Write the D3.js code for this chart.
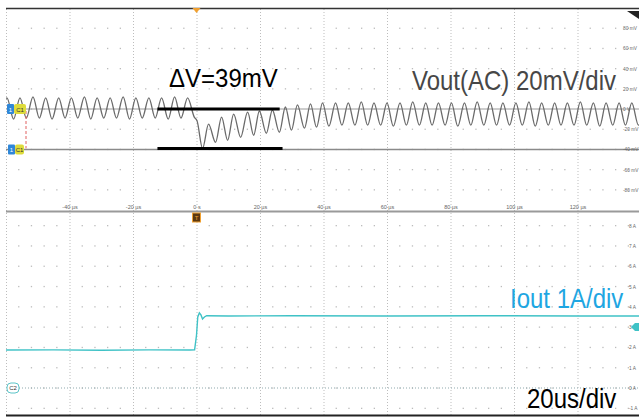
<!DOCTYPE html>
<html>
<head>
<meta charset="utf-8">
<script src="https://cdn.jsdelivr.net/npm/d3@7"></script>
<style>
body { margin: 0; background: #fff; }
svg { display: block; font-family: "Liberation Sans", Arial, sans-serif; }
</style>
</head>
<body>
<script>
var W = 639, H = 417;

// time axis, microseconds
var timeTicks = [-40, -20, 0, 20, 40, 60, 80, 100, 120];
var timeLabels = ["-40 µs", "-20 µs", "0 s", "20 µs", "40 µs", "60 µs", "80 µs", "100 µs", "120 µs"];
var voltTicks = [80, 60, 40, 20, 0, -20, -40, -60, -80];
var voltLabels = ["80 mV", "60 mV", "40 mV", "20 mV", "0 V", "-20 mV", "-40 mV", "-60 mV", "-80 mV"];
var ampTicks = [8, 7, 6, 5, 4, 3, 2, 1, 0, -1];
var ampLabels = ["8 A", "7 A", "6 A", "5 A", "4 A", "3 A", "2 A", "1 A", "0 A", "-1 A"];

// Vout (AC) ripple, peaks and troughs
var voutT = [
  -61.7, -59.7, -57.6, -55.6, -53.6, -51.5, -49.5, -47.5, -45.5, -43.4,
  -41.4, -39.4, -37.4, -35.3, -33.3, -31.3, -29.2, -27.2, -25.2, -23.1,
  -21.1, -19.1, -17.1, -15.0, -13.0, -11.0, -8.9, -6.9, -4.9, -2.8,
  -0.7, 0.2, 1.9, 3.8, 6.0, 7.9, 9.8, 11.7, 13.9, 16.1, 18.0,
  19.8, 22.0, 23.9, 26.1, 28.0, 29.9, 31.8, 34.0, 35.9, 37.8, 39.7,
  41.7, 43.8, 45.8, 47.8, 49.9, 51.9, 53.9, 55.9, 58.0, 60.0,
  62.0, 64.1, 66.1, 68.1, 70.2, 72.2, 74.2, 76.2, 78.3, 80.3,
  82.3, 84.4, 86.4, 88.4, 90.5, 92.5, 94.5, 96.5, 98.6, 100.6,
  102.6, 104.7, 106.7, 108.7, 110.8, 112.8, 114.8, 116.8, 118.9, 120.9,
  122.9, 125.0, 127.0, 129.0, 131.1, 133.1, 135.1, 137.1, 139.2, 141.2
];
var voutMv = [
  -9, 11, -10, 11, -9, 12, -9, 11, -10, 11,
  -9, 11, -9, 12, -10, 11, -9, 11, -9, 12,
  -10, 11, -9, 11, -9, 11, -10, 12, -9, 11,
  -8, -12, -39, -15, -33, -8, -31, -5, -28, -3, -26,
  -2, -24, -1, -23, 2, -21, 4, -19, 5, -18, 6,
  -17, 6, -16, 6, -16, 7, -16, 6, -16, 6,
  -17, 6, -16, 7, -16, 6, -16, 6, -16, 6,
  -17, 6, -16, 7, -16, 6, -16, 6, -16, 6,
  -16, 7, -17, 6, -16, 6, -16, 6, -16, 7,
  -16, 6, -17, 6, -16, 6, -16, 6, -16, 7
];

// Iout load step
var ioutT = [-60, -45, -30, -15, -2, -0.6, 0.0, 0.4, 0.9, 1.4, 1.9, 2.5, 3.2, 10, 30, 60, 90, 120, 140];
var ioutA = [1.87, 1.88, 1.86, 1.88, 1.87, 1.88, 2.6, 3.5, 3.7, 3.6, 3.4, 3.5, 3.56, 3.55, 3.56, 3.55, 3.56, 3.55, 3.55];

// delta V cursor lines: [t start, t end, mV]
var cursorLines = [[-12.3, 26.2, 0], [-12.3, 27.1, -39]];

var x = d3.scaleLinear().domain([-60, 140]).range([6, 641]);
var yV = d3.scaleLinear().domain([-100, 100]).range([210, 8]);
var yI = d3.scaleLinear().domain([-1, 8]).range([408.3, 225.6]);

var svg = d3.select("body").append("svg")
  .attr("width", W)
  .attr("height", H);

svg.append("rect").attr("width", W).attr("height", H).attr("fill", "#fff");

// grid: dotted verticals at each division
var majorT = d3.range(-60, 141, 20);
svg.append("g").selectAll("line")
  .data(majorT)
  .enter().append("line")
  .attr("x1", function(d) { return x(d) + 0.5; })
  .attr("x2", function(d) { return x(d) + 0.5; })
  .attr("y1", 9).attr("y2", 415)
  .attr("stroke", "#bdbdbd")
  .attr("stroke-dasharray", "1,2");

// rows of minor dots
var minorT = d3.range(-60, 141, 4).filter(function(t) { return t % 20 != 0; });
var rowY = voltTicks.map(function(v) { return yV(v); })
  .concat(ampTicks.map(function(a) { return yI(a); }));
var dots = [];
rowY.forEach(function(yy) {
  minorT.forEach(function(t) { dots.push([x(t), yy]); });
});
svg.append("g").selectAll("rect")
  .data(dots)
  .enter().append("rect")
  .attr("x", function(d) { return d[0] - 0.6; })
  .attr("y", function(d) { return d[1] - 0.6; })
  .attr("width", 1.3).attr("height", 1.3)
  .attr("fill", "#bcbcbc");

// panel frame
svg.append("line").attr("x1", 6).attr("x2", W).attr("y1", 8.5).attr("y2", 8.5)
  .attr("stroke", "#333").attr("stroke-width", 1.5);
svg.append("line").attr("x1", 6).attr("x2", W).attr("y1", 211.5).attr("y2", 211.5)
  .attr("stroke", "#9a9a9a").attr("stroke-width", 2);
svg.append("line").attr("x1", 6).attr("x2", W).attr("y1", 415.5).attr("y2", 415.5)
  .attr("stroke", "#222").attr("stroke-width", 2);

// channel 1 reference lines
svg.append("line").attr("x1", 6).attr("x2", W).attr("y1", yV(0)).attr("y2", yV(0))
  .attr("stroke", "#9a9a9a").attr("stroke-width", 1);
svg.append("line").attr("x1", 6).attr("x2", W).attr("y1", yV(-40)).attr("y2", yV(-40))
  .attr("stroke", "#8a8a8a").attr("stroke-width", 1.5);

// channel 2 ground (dotted)
svg.append("line").attr("x1", 19).attr("x2", W).attr("y1", yI(0)).attr("y2", yI(0))
  .attr("stroke", "#8fa9ad").attr("stroke-width", 1).attr("stroke-dasharray", "1,2");

// time labels
var tAxis = svg.append("g")
  .attr("transform", "translate(0,205)")
  .call(d3.axisBottom(x).tickValues(timeTicks)
    .tickFormat(function(d, i) { return timeLabels[i]; })
    .tickSize(0).tickPadding(0));
tAxis.select(".domain").remove();
tAxis.selectAll("text").attr("font-size", 5.5).attr("fill", "#666")
  .attr("font-family", "Liberation Sans, Arial, sans-serif");

// right side labels
var vAxis = svg.append("g")
  .attr("transform", "translate(623,0)")
  .call(d3.axisRight(yV).tickValues(voltTicks)
    .tickFormat(function(d, i) { return voltLabels[i]; })
    .tickSize(0).tickPadding(0));
vAxis.select(".domain").remove();
vAxis.selectAll("text").attr("font-size", 4.8).attr("fill", "#666")
  .attr("font-family", "Liberation Sans, Arial, sans-serif");

var aAxis = svg.append("g")
  .attr("transform", "translate(629,0)")
  .call(d3.axisRight(yI).tickValues(ampTicks)
    .tickFormat(function(d, i) { return ampLabels[i]; })
    .tickSize(0).tickPadding(0));
aAxis.select(".domain").remove();
aAxis.selectAll("text").attr("font-size", 4.8).attr("fill", "#666")
  .attr("font-family", "Liberation Sans, Arial, sans-serif");

// clips
var defs = svg.append("defs");
defs.append("clipPath").attr("id", "clipTop")
  .append("rect").attr("x", 6).attr("y", 9).attr("width", W - 6).attr("height", 201);
defs.append("clipPath").attr("id", "clipBot")
  .append("rect").attr("x", 6).attr("y", 213).attr("width", W - 6).attr("height", 202);

// Vout trace
var voutData = d3.zip(voutT, voutMv);
var vLine = d3.line()
  .x(function(d) { return x(d[0]); })
  .y(function(d) { return yV(d[1]); })
  .curve(d3.curveMonotoneX);
svg.append("path")
  .datum(voutData)
  .attr("clip-path", "url(#clipTop)")
  .attr("d", vLine)
  .attr("fill", "none")
  .attr("stroke", "#6a6a6a")
  .attr("stroke-width", 1.3);

// Iout trace
var ioutData = d3.zip(ioutT, ioutA);
var iLine = d3.line()
  .x(function(d) { return x(d[0]); })
  .y(function(d) { return yI(d[1]); });
svg.append("path")
  .datum(ioutData)
  .attr("clip-path", "url(#clipBot)")
  .attr("d", iLine)
  .attr("fill", "none")
  .attr("stroke", "#3fc2c6")
  .attr("stroke-width", 1.4);

// delta V cursors
svg.append("g").selectAll("line")
  .data(cursorLines)
  .enter().append("line")
  .attr("x1", function(d) { return x(d[0]); })
  .attr("x2", function(d) { return x(d[1]); })
  .attr("y1", function(d) { return yV(d[2]); })
  .attr("y2", function(d) { return yV(d[2]); })
  .attr("stroke", "#000")
  .attr("stroke-width", 3);

// red dashed link between C1 markers
svg.append("line").attr("x1", 26).attr("x2", 26)
  .attr("y1", yV(0) + 2).attr("y2", yV(-40) - 1)
  .attr("stroke", "#e06060").attr("stroke-dasharray", "3,2");

// C1 markers
[[0, 7, 12], [-40, 8, 9]].forEach(function(m) {
  var yy = yV(m[0]);
  svg.append("rect").attr("x", m[1]).attr("y", yy - 5).attr("width", 7).attr("height", 10)
    .attr("rx", 1).attr("fill", "#2f87d8");
  svg.append("rect").attr("x", m[1] + 7).attr("y", yy - 5).attr("width", m[2]).attr("height", 10)
    .attr("rx", 2).attr("fill", "#dedb3c");
  svg.append("text").attr("x", m[1] + 3.5).attr("y", yy + 2.5).attr("text-anchor", "middle")
    .attr("font-size", 6).attr("fill", "#fff").text("1");
  svg.append("text").attr("x", m[1] + 7 + m[2] / 2).attr("y", yy + 2.5).attr("text-anchor", "middle")
    .attr("font-size", 6).attr("fill", "#333").text("C1");
});

// C2 marker
svg.append("rect").attr("x", 7).attr("y", yI(0) - 5).attr("width", 12).attr("height", 10)
  .attr("rx", 4).attr("fill", "#fff").attr("stroke", "#5cc4c8");
svg.append("text").attr("x", 13).attr("y", yI(0) + 2.2).attr("text-anchor", "middle")
  .attr("font-size", 6).attr("fill", "#333").text("C2");

// C2 level arrow on right
svg.append("path")
  .attr("d", "M631," + yI(3) + "l4,-4h4v8h-4z")
  .attr("fill", "#3fc2c6");

// trigger markers
svg.append("path")
  .attr("d", "M" + (x(0) - 4) + ",8l8,0l-4,5z")
  .attr("fill", "#f0a030");
svg.append("rect").attr("x", x(0) - 4).attr("y", 213).attr("width", 8).attr("height", 9)
  .attr("fill", "#5c3810").attr("stroke", "#f0a030").attr("stroke-width", 1);
svg.append("text").attr("x", x(0)).attr("y", 220).attr("text-anchor", "middle")
  .attr("font-size", 6).attr("fill", "#f0a030").text("T");

// corner marker
svg.append("path").attr("d", "M627,11H639V19Z").attr("fill", "#222");

// annotations (24px, stretched a little in height like the screenshot)
var notes = [
  ["ΔV=39mV", 169, 87, 1.1, "#000"],
  ["Vout(AC) 20mV/div", 412, 90, 1.17, "#474747"],
  ["Iout 1A/div", 510, 308, 1.17, "#1ea6e2"],
  ["20us/div", 527, 408, 1.17, "#000"]
];
notes.forEach(function(n) {
  svg.append("text")
    .attr("transform", "translate(" + n[1] + "," + n[2] + ") scale(1," + n[3] + ")")
    .attr("font-size", 24)
    .attr("fill", n[4])
    .text(n[0]);
});
</script>
</body>
</html>
